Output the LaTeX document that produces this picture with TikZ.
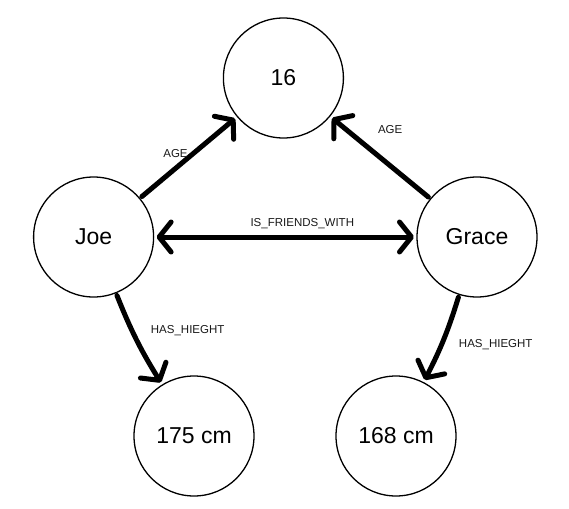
\documentclass[tikz,border=0pt]{standalone}
\usepackage{fontspec}
\setmainfont{Liberation Sans}
\usetikzlibrary{arrows.meta}

\begin{document}
\begin{tikzpicture}[x=1pt, y=1pt,
    >={Straight Barb[length=12pt,width=30pt,round]},
    entity/.style={draw, circle, line width=1.3pt, minimum size=120pt,
                   inner sep=0pt, outer sep=3pt,
                   font=\fontsize{23}{26}\selectfont},
    rel/.style={->, line width=5pt, line cap=round},
    lbl/.style={font=\fontsize{11.5}{13}\selectfont, text=black!90, inner sep=1pt}]
  \useasboundingbox (0,0) rectangle (569,-508);

  % Nodes
  \node[entity] (age)   at (283.4,-78)  {16};
  \node[entity] (joe)   at (93.6,-237)  {Joe};
  \node[entity] (grace) at (477,-237)   {Grace};
  \node[entity] (hjoe)  at (194,-436)   {175 cm};
  \node[entity] (hgrace) at (396,-436)  {168 cm};

  % Arrows
  \draw[rel] (joe) -- node[lbl, xshift=-13pt, yshift=4pt] {AGE} (age);
  \draw[rel] (grace) -- node[lbl, xshift=10pt, yshift=28pt] {AGE} (age);
  \draw[rel, <->] (joe) -- node[lbl, xshift=17pt, yshift=13pt] {IS\_FRIENDS\_WITH} (grace);
  \draw[rel] (joe) to[bend right=5] node[lbl, xshift=51pt, yshift=9pt] {HAS\_HIEGHT} (hjoe);
  \draw[rel] (grace) to[bend left=5] node[lbl, xshift=52pt, yshift=-5pt] {HAS\_HIEGHT} (hgrace);
\end{tikzpicture}
\end{document}
